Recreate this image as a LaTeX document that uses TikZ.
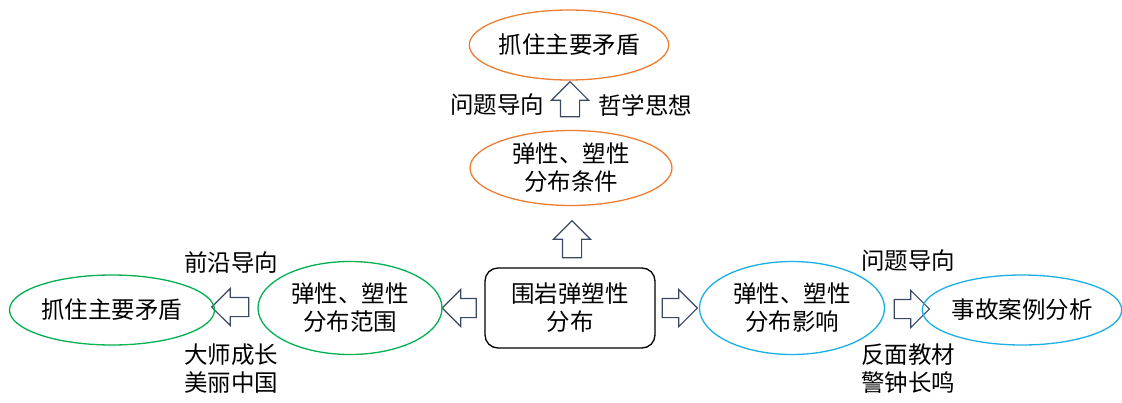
\documentclass[tikz,border=0pt]{standalone}
\usepackage{fontspec}
\setmainfont{Noto Sans CJK SC}
\usetikzlibrary{shapes.geometric,shapes.arrows}
\definecolor{orng}{HTML}{ED7D31}
\definecolor{grn}{HTML}{00B050}
\definecolor{blu}{HTML}{1AAEE6}
\definecolor{arrc}{HTML}{3A4866}
\newcommand{\shaftgap}{\rule{0pt}{18pt}}
\newcommand{\shaftgapv}{\rule{18pt}{0pt}}
\begin{document}
\begin{tikzpicture}[x=1pt,y=-1pt,
  txt/.style={font=\fontsize{23.5}{28}\selectfont, align=center},
  oval/.style={txt, ellipse, draw, line width=1.3pt, inner sep=0pt},
  obox/.style={oval, draw=orng},
  gbox/.style={oval, draw=grn},
  bbox/.style={oval, draw=blu},
  blockarrow/.style={single arrow, draw=arrc, fill=white, line width=1.1pt,
     inner sep=0pt, single arrow head extend=9pt,
     minimum height=36pt, single arrow tip angle=90},
  lbl/.style={txt, inner sep=0pt}
]
\useasboundingbox (0,0) rectangle (1122,402);
% top column
\node[obox, minimum width=178pt, minimum height=70pt] (top) at (569,45) {抓住主要矛盾};
\node[blockarrow, shape border rotate=90, minimum height=35pt] (aup1) at (570,104) {\shaftgapv};
\node[lbl] (l1) at (497,105) {问题导向};
\node[lbl] (l2) at (645,105) {哲学思想};
\node[obox, minimum width=202pt, minimum height=75pt] (cond) at (571,168) {弹性、塑性\\分布条件};
\node[blockarrow, shape border rotate=90, minimum height=37pt] (aup2) at (572,244) {\shaftgapv};
% center
\node[txt, draw=black, line width=1.3pt, rounded corners=13pt, minimum width=170pt, minimum height=80pt, inner sep=0pt] (center) at (570,308) {围岩弹塑性\\分布};
% left
\node[blockarrow, shape border rotate=180, minimum height=34pt] (al1) at (464,308) {\shaftgap};
\node[gbox, minimum width=184pt, minimum height=93pt] (range) at (350,308) {弹性、塑性\\分布范围};
\node[blockarrow, shape border rotate=180, minimum height=37pt] (al2) at (235,307) {\shaftgap};
\node[gbox, minimum width=205pt, minimum height=70pt] (gl) at (112,310) {抓住主要矛盾};
\node[lbl] (l3) at (231,263) {前沿导向};
\node[lbl] (l4) at (231,355) {大师成长};
\node[lbl] (l5) at (231,383) {美丽中国};
% right
\node[blockarrow, minimum height=35pt] (ar1) at (675,308) {\shaftgap};
\node[bbox, minimum width=185pt, minimum height=93pt] (infl) at (792,308) {弹性、塑性\\分布影响};
\node[blockarrow, minimum height=35pt] (ar2) at (907,309) {\shaftgap};
\node[bbox, minimum width=187pt, minimum height=70pt] (case) at (1022,310) {事故案例分析};
\node[lbl] (l6) at (908,261) {问题导向};
\node[lbl] (l7) at (908,355) {反面教材};
\node[lbl] (l8) at (908,383) {警钟长鸣};
\end{tikzpicture}
\end{document}
